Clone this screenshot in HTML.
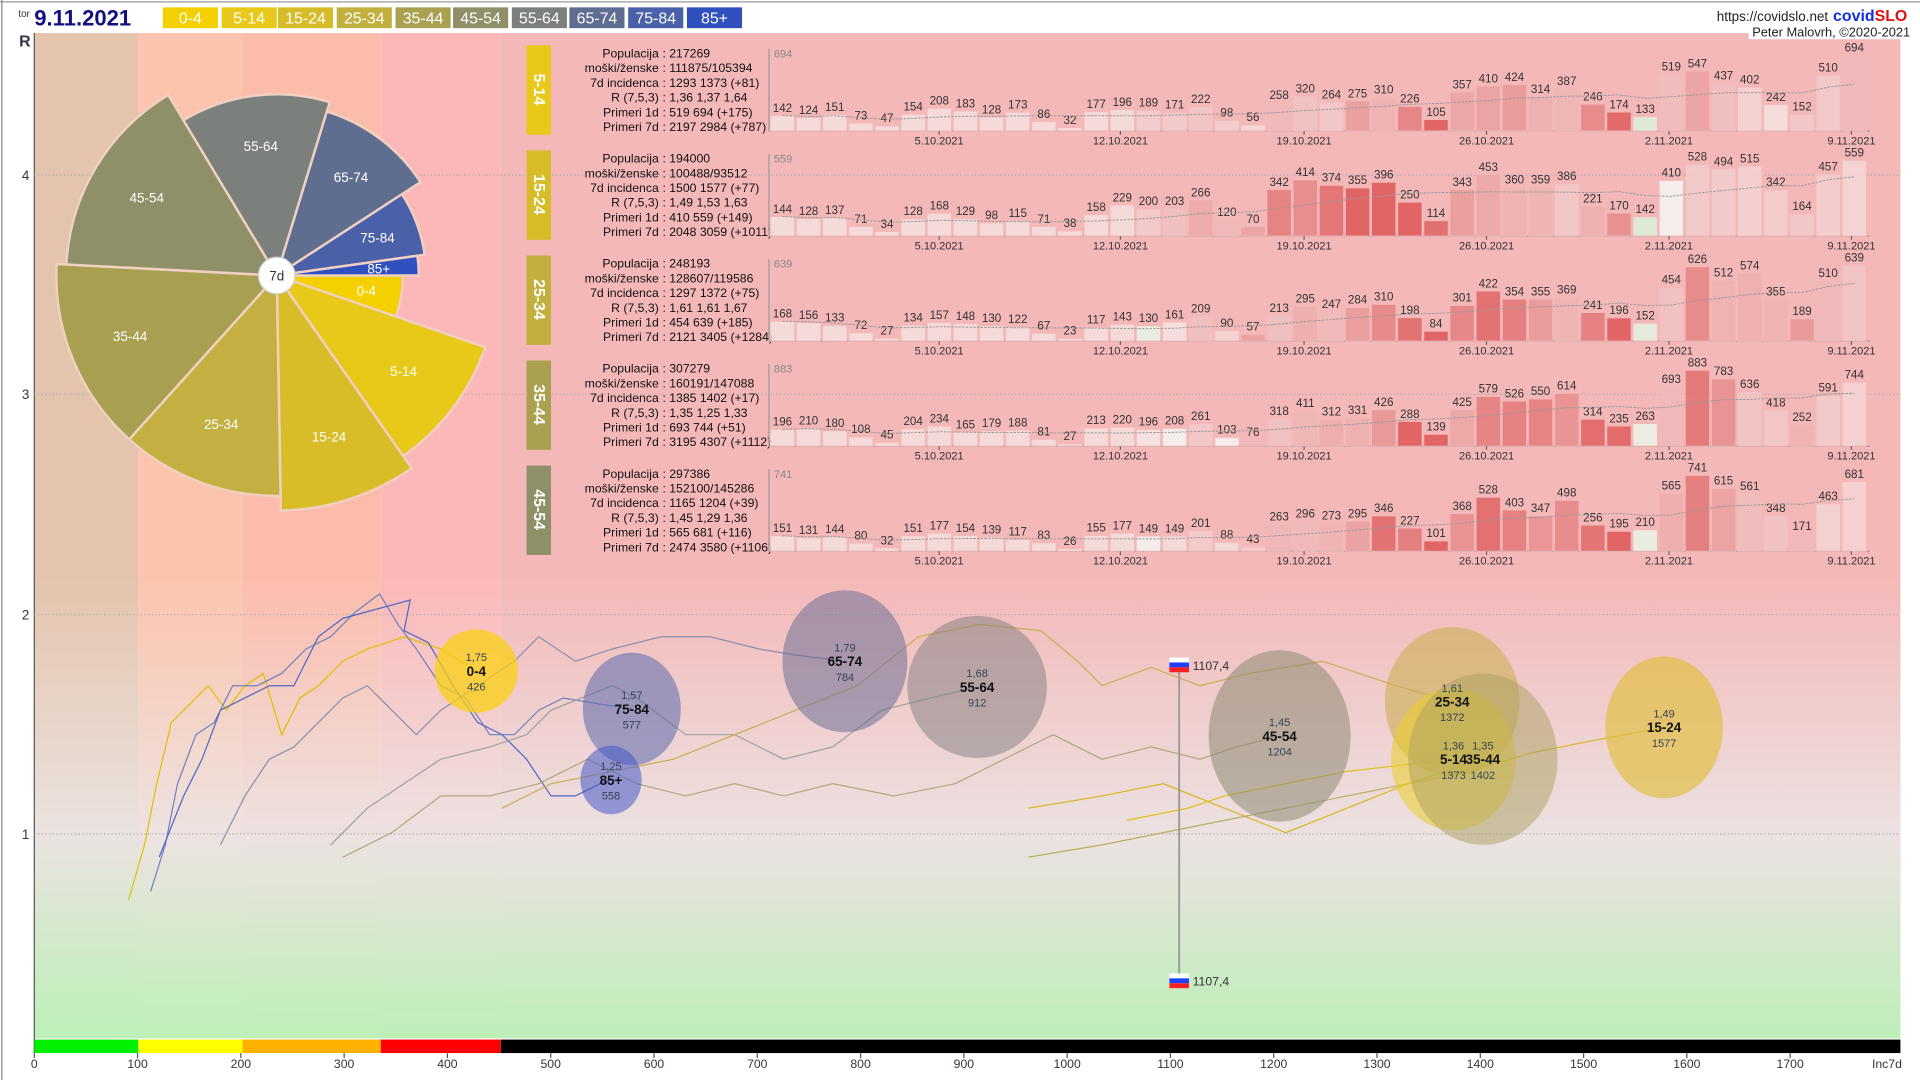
<!DOCTYPE html>
<html><head><meta charset="utf-8">
<style>
html,body{margin:0;padding:0;width:1920px;height:1080px;overflow:hidden;background:#fff}
#wrap{position:absolute;left:0;top:0;width:1568px;height:882px;transform:scale(1.22449);transform-origin:0 0;font-family:"Liberation Sans",sans-serif}
svg text{font-family:"Liberation Sans",sans-serif}
</style></head><body><div id="wrap">
<svg id="s" width="1568" height="882" xmlns="http://www.w3.org/2000/svg">
<defs>
<linearGradient id="fade" x1="0" y1="0" x2="0" y2="1">
<stop offset="0" stop-color="#ece6e6" stop-opacity="0"/>
<stop offset="0.54" stop-color="#ece6e6" stop-opacity="0"/>
<stop offset="0.80" stop-color="#ebe6e6" stop-opacity="0.9"/>
<stop offset="1" stop-color="#b8f4b8" stop-opacity="0.92"/>
</linearGradient>
</defs>
<rect x="0" y="0" width="1568" height="882" fill="#fff"/>
<line x1="0" y1="1.5" x2="1568" y2="1.5" stroke="#999"/>
<line x1="1.5" y1="0" x2="1.5" y2="882" stroke="#888"/>
<rect x="28" y="27" width="85" height="821" fill="#e4c4ac"/>
<rect x="113" y="27" width="85" height="821" fill="#fcc4ac"/>
<rect x="198" y="27" width="113" height="821" fill="#fcbcac"/>
<rect x="311" y="27" width="98" height="821" fill="#fcb8b8"/>
<rect x="409" y="27" width="1143" height="821" fill="#f4b8b8"/>
<rect x="28" y="27" width="1524" height="821" fill="url(#fade)"/>
<line x1="28" y1="27" x2="28" y2="860" stroke="#555"/>
<g stroke="#aaa" stroke-dasharray="1,2">
<line x1="28" y1="143" x2="1552" y2="143"/><line x1="28" y1="322" x2="1552" y2="322"/>
<line x1="28" y1="502" x2="1552" y2="502"/><line x1="28" y1="681" x2="1552" y2="681"/>
</g>
<g font-size="11" fill="#334" text-anchor="end">
<text x="25" y="38" font-size="13" font-weight="bold">R</text>
<text x="24" y="147">4</text><text x="24" y="326">3</text><text x="24" y="506">2</text><text x="24" y="685">1</text>
</g>
<rect x="28" y="849" width="85" height="11" fill="#00f000"/>
<rect x="113" y="849" width="85" height="11" fill="#ffff00"/>
<rect x="198" y="849" width="113" height="11" fill="#ffb000"/>
<rect x="311" y="849" width="98" height="11" fill="#ff0000"/>
<rect x="409" y="849" width="1143" height="11" fill="#000"/>
<g id="xax" font-size="10" fill="#334" text-anchor="middle"></g>
<text x="15" y="14" font-size="8" fill="#333">tor</text>
<text x="28" y="21" font-size="18" font-weight="bold" fill="#101080">9.11.2021</text>
<g id="leg" font-size="13" fill="#fff" text-anchor="middle"></g>
<text x="1493" y="17" font-size="11" fill="#222" text-anchor="end">https://covidslo.net</text>
<text x="1497" y="17" font-size="13" font-weight="bold" fill="#1030e0">covid<tspan fill="#e01010">SLO</tspan></text>
<rect x="1428" y="20" width="136" height="12" fill="#fff"/>
<text x="1560" y="30" font-size="10.5" fill="#222" text-anchor="end">Peter Malovrh, ©2020-2021</text>
<g id="pie"></g>
<g id="panels"></g>
<g id="trails" fill="none" stroke-width="1"></g>
<g id="bub"></g>
</svg></div>
<script>
var S=document.getElementById('s'),NS='http://www.w3.org/2000/svg';
function el(p,t,a,txt){var e=document.createElementNS(NS,t);for(var k in a)e.setAttribute(k,a[k]);if(txt!=null)e.textContent=txt;p.appendChild(e);return e}
var g=function(id){return document.getElementById(id)};
var xa=g('xax');for(var i=0;i<=17;i++){var x=28+i*84.35;el(xa,'line',{x1:x,y1:860,x2:x,y2:864,stroke:'#555'});el(xa,'text',{x:x,y:872},String(i*100))}
el(xa,'text',{x:1541,y:872},'Inc7d');
var L=[['0-4',133,'#f5d000'],['5-14',181,'#e8c818'],['15-24',227,'#d6bc28'],['25-34',275,'#c2b03e'],['35-44',323,'#a9a150'],['45-54',370,'#8f8f68'],['55-64',418,'#7c807c'],['65-74',465,'#5f6e90'],['75-84',513,'#4a60a8'],['85+',561,'#3050c0']];
L.forEach(function(l){el(g('leg'),'rect',{x:l[1],y:6,width:45,height:17,fill:l[2]});el(g('leg'),'text',{x:l[1]+22.5,y:19},l[0])});
var cx=226,cy=225,P=[['0-4',0,19,103,'#f5d000'],['5-14',19,55,180,'#e8c818'],['15-24',55,89,192,'#d8bc28'],['25-34',89,132,180,'#c4b040'],['35-44',132,183,180,'#a8a050'],['45-54',183,239,172,'#909068'],['55-64',239,287,148,'#7c807c'],['65-74',287,327,140,'#5f6e90'],['75-84',327,352,122,'#4a60a8'],['85+',352,360,116,'#3050c0']];
P.forEach(function(p){var a0=p[1]*Math.PI/180,a1=p[2]*Math.PI/180,r=p[3];
var d='M'+cx+','+cy+' L'+(cx+r*Math.cos(a0))+','+(cy+r*Math.sin(a0))+' A'+r+','+r+' 0 0 1 '+(cx+r*Math.cos(a1))+','+(cy+r*Math.sin(a1))+' Z';
el(g('pie'),'path',{d:d,fill:p[4],stroke:'#f0d0c0','stroke-width':2});
var am=(a0+a1)/2,rr=r*0.72;el(g('pie'),'text',{x:cx+rr*Math.cos(am),y:cy+rr*Math.sin(am)+4,'font-size':11,fill:'#fff','text-anchor':'middle'},p[0]);});
el(g('pie'),'circle',{cx:cx,cy:cy,r:15,fill:'#fff',stroke:'#ccc'});el(g('pie'),'text',{x:cx,y:cy+4,'font-size':11,fill:'#333','text-anchor':'middle'},'7d');
var PN=[['5-14','#e8c818',['217269','111875/105394','1293 1373 (+81)','1,36 1,37 1,64','519 694 (+175)','2197 2984 (+787)'],[142,124,151,73,47,154,208,183,128,173,86,32,177,196,189,171,222,98,56,258,320,264,275,310,226,105,357,410,424,314,387,246,174,133,519,547,437,402,242,152,510,694]],
['15-24','#d6bc28',['194000','100488/93512','1500 1577 (+77)','1,49 1,53 1,63','410 559 (+149)','2048 3059 (+1011)'],[144,128,137,71,34,128,168,129,98,115,71,38,158,229,200,203,266,120,70,342,414,374,355,396,250,114,343,453,360,359,386,221,170,142,410,528,494,515,342,164,457,559]],
['25-34','#c2b03e',['248193','128607/119586','1297 1372 (+75)','1,61 1,61 1,67','454 639 (+185)','2121 3405 (+1284)'],[168,156,133,72,27,134,157,148,130,122,67,23,117,143,130,161,209,90,57,213,295,247,284,310,198,84,301,422,354,355,369,241,196,152,454,626,512,574,355,189,510,639]],
['35-44','#a9a150',['307279','160191/147088','1385 1402 (+17)','1,35 1,25 1,33','693 744 (+51)','3195 4307 (+1112)'],[196,210,180,108,45,204,234,165,179,188,81,27,213,220,196,208,261,103,76,318,411,312,331,426,288,139,425,579,526,550,614,314,235,263,693,883,783,636,418,252,591,744]],
['45-54','#8f8f68',['297386','152100/145286','1165 1204 (+39)','1,45 1,29 1,36','565 681 (+116)','2474 3580 (+1106)'],[151,131,144,80,32,151,177,154,139,117,83,26,155,177,149,149,201,88,43,263,296,273,295,346,227,101,368,528,403,347,498,256,195,210,565,741,615,561,348,171,463,681]]];
var labs=['Populacija','moški/ženske','7d incidenca','R (7,5,3)','Primeri 1d','Primeri 7d'];
var dates=[['5.10.2021',767],['12.10.2021',915],['19.10.2021',1065],['26.10.2021',1214],['2.11.2021',1363],['9.11.2021',1512]];
var pg=g('panels');
PN.forEach(function(p,k){var o=k*85.8,base=107+o;
el(pg,'rect',{x:430,y:37+o,width:20,height:73,fill:p[1]});
el(pg,'text',{x:440,y:73+o,'font-size':13,'font-weight':'bold',fill:'#fff','text-anchor':'middle',transform:'rotate(90 440 '+(73+o)+')',dy:'4'},p[0]);
for(var j=0;j<6;j++){var y=47+o+j*12;el(pg,'text',{x:538,y:y,'font-size':10,fill:'#111','text-anchor':'end'},labs[j]);el(pg,'text',{x:541,y:y,'font-size':10,fill:'#111'},': '+p[2][j])}
var v=p[3],mx=Math.max.apply(null,v),sc=62/mx;
el(pg,'line',{x1:628,y1:40+o,x2:628,y2:base,stroke:'#999'});
el(pg,'line',{x1:628,y1:base,x2:1527,y2:base,stroke:'#999'});
el(pg,'text',{x:632,y:47+o,'font-size':9,fill:'#888'},String(mx));
var avg=[];
v.forEach(function(val,i){var x=629+i*21.35,h=val*sc;
var prev=i>=14?v[i-14]:val*0.9,r=val/prev,fill;
if(r<1){var a=Math.min(1,(1-r)*2.5);fill='rgb('+Math.round(246-28*a)+','+Math.round(246-4*a)+','+Math.round(246-28*a)+')'}
else{var a=Math.min(0.85,(r-1)/2.6);fill='rgb('+Math.round(246-30*a)+','+Math.round(230-170*a)+','+Math.round(230-170*a)+')'}
el(pg,'rect',{x:x,y:base-h,width:20,height:h,fill:fill,stroke:'#f4b8b8','stroke-width':0.8,'fill-opacity':0.85});
el(pg,'text',{x:x+10,y:base-h-3,'font-size':9.5,fill:'#333','text-anchor':'middle'},String(val));
var s=0,c=0;for(var q=Math.max(0,i-6);q<=i;q++){s+=v[q];c++}avg.push((x+10)+','+(base-s/c*sc))});
el(pg,'polyline',{points:avg.join(' '),fill:'none',stroke:'#999','stroke-dasharray':'2,1','stroke-width':0.8});
dates.forEach(function(d){el(pg,'line',{x1:d[1],y1:base,x2:d[1],y2:base+3,stroke:'#666'});el(pg,'text',{x:d[1],y:base+11,'font-size':9,fill:'#333','text-anchor':'middle'},d[0])});
});
var T=[['#e0c000','105,735 118,690 128,640 140,590 155,575 170,560 185,580 200,560 215,550 230,600 245,570 260,560 280,540 300,530 330,520 360,530 389,548'],
['#7080c0','123,728 135,690 145,640 160,600 175,590 190,560 210,560 230,550 250,530 270,520 290,500 310,485 325,510 340,530 360,560 380,570 400,600 420,600 440,580 460,570 490,575 516,579'],
['#5068c8','130,700 150,650 165,620 180,580 200,570 220,560 240,560 260,520 280,505 335,490 330,515 350,525 370,560 390,590 410,600 430,620 450,650 470,650 490,640 499,637'],
['#8890b0','180,690 200,650 220,620 240,610 260,590 280,570 300,560 320,580 340,600 360,580 390,560 420,540 440,520 470,540 500,530 540,520 580,520 620,530 650,535 690,540'],
['#a0a0a0','270,690 300,660 330,640 360,620 400,610 430,600 450,580 500,560 520,570 560,600 600,600 640,620 680,610 720,580 760,570 798,561'],
['#b0a880','280,700 320,680 360,650 400,650 440,640 480,620 520,640 560,650 600,640 640,650 680,640 730,650 780,640 820,620 860,600 900,620 940,610 980,620 1010,610 1045,601'],
['#c8b050','410,660 450,640 500,630 550,620 600,600 650,580 700,560 750,520 800,510 850,515 880,540 900,560 940,545 980,560 1020,550 1080,540 1140,560 1186,573'],
['#d8b820','840,660 900,650 950,640 1000,660 1050,680 1100,660 1150,640 1200,630 1250,615 1300,605 1359,594'],
['#b8b060','840,700 900,690 950,680 1000,670 1050,660 1100,650 1150,640 1211,620'],
['#e0c010','920,670 970,660 1000,650 1050,640 1100,630 1187,620']];
T.forEach(function(t){el(g('trails'),'polyline',{points:t[1],stroke:t[0]})});
var b=g('bub');
el(b,'line',{x1:963,y1:545,x2:963,y2:800,stroke:'#999','stroke-width':1.5});
[543,801].forEach(function(y){el(b,'rect',{x:955,y:y-6,width:16,height:4,fill:'#fff'});el(b,'rect',{x:955,y:y-2,width:16,height:4,fill:'#2040ff'});el(b,'rect',{x:955,y:y+2,width:16,height:4,fill:'#ff2020'});el(b,'text',{x:974,y:y+4,'font-size':10,fill:'#333'},'1107,4')});
var B=[['0-4',389,548,34,34,'rgba(250,208,20,0.75)','1,75','426'],['65-74',690,540,51,58,'rgba(110,112,150,0.55)','1,79','784'],['55-64',798,561,57,58,'rgba(128,126,128,0.5)','1,68','912'],
['75-84',516,579,40,46,'rgba(90,105,175,0.55)','1,57','577'],['85+',499,637,25,28,'rgba(70,90,200,0.55)','1,25','558'],['45-54',1045,601,58,70,'rgba(140,138,115,0.55)','1,45','1204'],
['25-34',1186,573,55,61,'rgba(205,175,85,0.6)','1,61','1372'],['5-14',1187,620,51,58,'rgba(235,205,40,0.55)','1,36','1373'],['35-44',1211,620,61,70,'rgba(170,160,95,0.5)','1,35','1402'],['15-24',1359,594,48,58,'rgba(225,190,60,0.65)','1,49','1577']];
B.forEach(function(q){el(b,'ellipse',{cx:q[1],cy:q[2],rx:q[3],ry:q[4],fill:q[5]})});
B.forEach(function(q){el(b,'text',{x:q[1],y:q[2]-8,'font-size':9,fill:'#345','text-anchor':'middle'},q[6]);el(b,'text',{x:q[1],y:q[2]+4,'font-size':11,'font-weight':'bold',fill:'#111','text-anchor':'middle'},q[0]);el(b,'text',{x:q[1],y:q[2]+16,'font-size':9,fill:'#345','text-anchor':'middle'},q[7])});
</script>
</body></html>
